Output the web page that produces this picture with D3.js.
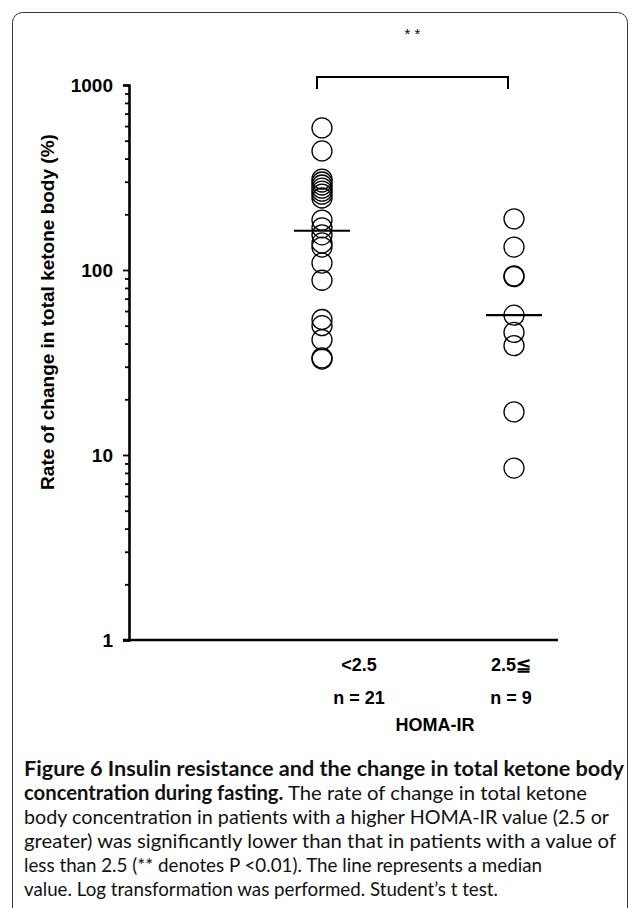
<!DOCTYPE html>
<html>
<head>
<meta charset="utf-8">
<script src="https://cdn.jsdelivr.net/npm/d3@7"></script>
<style>
  html, body { margin: 0; padding: 0; background: #fff; }
  svg { display: block; }
</style>
</head>
<body>
<svg id="chart" width="637" height="908"></svg>
<script>
// ---- data ----
const categories = ["<2.5", "2.5≦"];
const nLabels = ["n = 21", "n = 9"];
const groupLow = [586, 440, 310, 299, 288, 277, 267, 257, 245, 186, 169, 155, 140, 133, 109, 88, 54, 50, 42, 33.5, 33];
const groupHigh = [189, 133, 93, 92, 57, 46, 39, 17.1, 8.5];
const medians = [163, 57];
const yTickValues = [1, 10, 100, 1000];
const xTitle = "HOMA-IR";
const yTitle = "Rate of change in total ketone body (%)";
const sigLabel = "* *";
const captionBold = ["Figure 6 Insulin resistance and the change in total ketone body", "concentration during fasting."];
const captionRest = [
  "",
  " The rate of change in total ketone",
  "body concentration in patients with a higher HOMA-IR value (2.5 or",
  "greater) was significantly lower than that in patients with a value of",
  "less than 2.5 (** denotes P <0.01). The line represents a median",
  "value. Log transformation was performed. Student\u2019s t test."
];

// layout (not data): rendered width of each caption line in the reference
const captionLineWidths = [600, 563, 585, 592, 518, 474];

const svg = d3.select("#chart");
const chartFont = "'Liberation Sans', Arial, sans-serif";
const captionFont = "Lato, 'Open Sans', sans-serif";

// frame
svg.append("rect")
  .attr("x", 12.5).attr("y", 12.5).attr("width", 615).attr("height", 1000)
  .attr("rx", 10).attr("ry", 10)
  .attr("fill", "none").attr("stroke", "#333").attr("stroke-width", 1);

// scales
const y = d3.scaleLog().domain([1, 1000]).range([640, 85]);
const x = d3.scalePoint().domain(categories).range([322, 514]);
const xLabel = d3.scalePoint().domain(categories).range([359, 511]);
const axisX0 = 129, axisX1 = 558;

// y axis with minor ticks
const allTicks = [];
for (let d = 1; d < 1000; d *= 10) for (let k = 1; k < 10; k++) allTicks.push(d * k);
allTicks.push(1000);
const yAxis = d3.axisLeft(y)
  .tickValues(allTicks)
  .tickSizeOuter(0)
  .tickSize(6)
  .tickPadding(10)
  .tickFormat(d => yTickValues.includes(d) ? String(d) : "");
const gy = svg.append("g").attr("transform", `translate(${axisX0},0)`).call(yAxis);
gy.select(".domain").attr("stroke", "#000").attr("stroke-width", 2.6);
gy.selectAll(".tick line")
  .attr("stroke", "#000").attr("stroke-width", 1.8)
  .attr("x2", d => yTickValues.includes(d) ? -6 : -4);
gy.selectAll(".tick text")
  .attr("font-family", chartFont).attr("font-weight", "bold")
  .attr("font-size", 19).attr("fill", "#000");

// x axis line
svg.append("line")
  .attr("x1", axisX0 - 6).attr("x2", axisX1)
  .attr("y1", y(1)).attr("y2", y(1))
  .attr("stroke", "#000").attr("stroke-width", 2.6);

// category labels
svg.selectAll("text.cat").data(categories).join("text")
  .attr("class", "cat")
  .attr("x", d => xLabel(d)).attr("y", 671)
  .attr("text-anchor", "middle")
  .attr("font-family", chartFont).attr("font-weight", "bold").attr("font-size", 18)
  .text(d => d);
svg.selectAll("text.nlab").data(nLabels).join("text")
  .attr("class", "nlab")
  .attr("x", (d, i) => xLabel(categories[i])).attr("y", 704)
  .attr("text-anchor", "middle")
  .attr("font-family", chartFont).attr("font-weight", "bold").attr("font-size", 18)
  .text(d => d);
svg.append("text")
  .attr("x", (xLabel(categories[0]) + xLabel(categories[1])) / 2).attr("y", 731)
  .attr("text-anchor", "middle")
  .attr("font-family", chartFont).attr("font-weight", "bold").attr("font-size", 18)
  .text(xTitle);

// y title
svg.append("text")
  .attr("transform", "translate(54,312) rotate(-90)")
  .attr("text-anchor", "middle")
  .attr("font-family", chartFont).attr("font-weight", "bold").attr("font-size", 19)
  .text(yTitle);

// points
const groups = [groupLow, groupHigh];
groups.forEach((vals, gi) => {
  svg.append("g").selectAll("circle").data(vals).join("circle")
    .attr("cx", x(categories[gi]))
    .attr("cy", d => y(d))
    .attr("r", 10)
    .attr("fill", "none")
    .attr("stroke", "#000")
    .attr("stroke-width", 1.3);
});

// median lines
svg.append("g").selectAll("line").data(medians).join("line")
  .attr("x1", (d, i) => x(categories[i]) - 28)
  .attr("x2", (d, i) => x(categories[i]) + 28)
  .attr("y1", d => y(d)).attr("y2", d => y(d))
  .attr("stroke", "#000").attr("stroke-width", 2.2);

// significance bracket
const bx0 = x(categories[0]) - 5, bx1 = x(categories[1]) - 6, by = 77;
svg.append("path")
  .attr("d", `M${bx0},${by + 12}V${by}H${bx1}V${by + 12}`)
  .attr("fill", "none").attr("stroke", "#000").attr("stroke-width", 2);
svg.append("text")
  .attr("x", (bx0 + bx1) / 2).attr("y", 39)
  .attr("text-anchor", "middle")
  .attr("font-family", chartFont).attr("font-size", 15)
  .text(sigLabel);

// caption
const cap = svg.append("g");
const capLines = captionRest.map((t, i) => ({ bold: captionBold[i] || "", rest: t }));
capLines.forEach((l, i) => {
  const t = cap.append("text")
    .attr("x", 24).attr("y", 776 + i * 24)
    .attr("textLength", captionLineWidths[i])
    .attr("lengthAdjust", "spacingAndGlyphs")
    .attr("font-family", captionFont).attr("font-size", 20).attr("fill", "#111");
  if (l.bold) t.append("tspan").attr("font-weight", "bold").text(l.bold);
  if (l.rest) t.append("tspan").text(l.rest);
});
</script>
</body>
</html>
